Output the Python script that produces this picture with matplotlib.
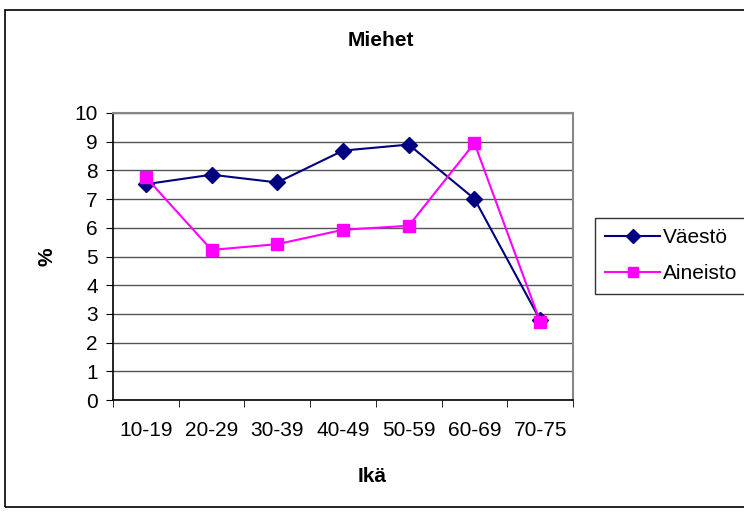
import matplotlib
matplotlib.use("Agg")
import matplotlib.pyplot as plt
from matplotlib.patches import Rectangle

plt.rcParams['font.family'] = ['Liberation Sans', 'DejaVu Sans']

ages = ["10-19", "20-29", "30-39", "40-49", "50-59", "60-69", "70-75"]
vaesto = [7.52, 7.85, 7.58, 8.69, 8.9, 7.01, 2.79]
aineisto = [7.76, 5.23, 5.43, 5.93, 6.07, 8.95, 2.73]

W, H = 744, 514
fig = plt.figure(figsize=(W / 100, H / 100), dpi=100)

# chart frame (right edge runs off the canvas)
fig.patches.append(Rectangle((5 / W, 1 - 507 / H), 1.0, (507 - 10) / H,
                             transform=fig.transFigure, fill=False,
                             edgecolor="black", linewidth=1.2))

ax = fig.add_axes([113 / W, 1 - 400 / H, (573 - 113) / W, (400 - 113) / H])
x = list(range(len(ages)))
ax.plot(x, vaesto, color="#000080", marker="D", markersize=8, linewidth=1.5,
        label="Väestö", zorder=3)
ax.plot(x, aineisto, color="#FF00FF", marker="s", markersize=8, linewidth=1.5,
        label="Aineisto", zorder=3)

ax.set_xlim(-0.5, len(ages) - 0.5)
ax.set_ylim(0, 10)
ax.set_yticks(range(0, 11))
ax.set_xticks(x)
ax.set_xticklabels(ages)
ax.set_xticks([i - 0.5 for i in range(len(ages) + 1)], minor=True)
ax.tick_params(axis="x", which="major", length=0, pad=15, labelsize=15)
ax.tick_params(axis="x", which="minor", length=5, direction="out", color="black")
ax.tick_params(axis="y", length=5, direction="out", labelsize=15, pad=6)

ax.yaxis.grid(True, color="#555555", linewidth=1)
ax.set_axisbelow(True)
for side in ("top", "right"):
    ax.spines[side].set_color("#888888")
    ax.spines[side].set_linewidth(1.5)
for side in ("left", "bottom"):
    ax.spines[side].set_color("black")
    ax.spines[side].set_linewidth(1.2)

fig.text(381 / W, 1 - 41 / H, "Miehet", ha="center", va="center",
         fontsize=15, fontweight="bold")
fig.text(372 / W, 1 - 476 / H, "Ikä", ha="center", va="center",
         fontsize=15, fontweight="bold")
fig.text(47 / W, 1 - 257 / H, "%", ha="center", va="center",
         fontsize=15, fontweight="bold", rotation=90)

leg = fig.legend(loc="upper left", bbox_to_anchor=(595 / W, 1 - 218 / H),
                 frameon=True, fancybox=False, edgecolor="black",
                 fontsize=15, handlelength=2.6, handletextpad=0.15,
                 borderpad=0.5, labelspacing=0.8, borderaxespad=0)
leg.get_frame().set_linewidth(1.0)
for h in leg.legend_handles:
    h.set_markersize(7)

fig.savefig("out.png", dpi=100)
